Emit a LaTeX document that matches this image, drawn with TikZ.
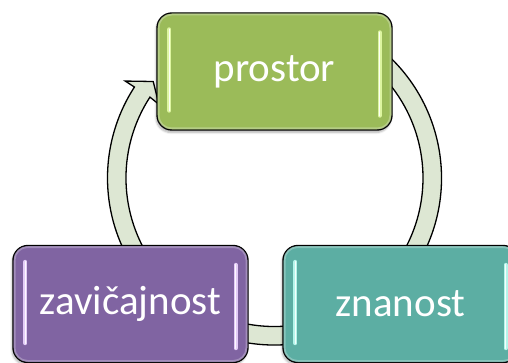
\documentclass[tikz,border=0pt]{standalone}
\usepackage{fontspec}
\setmainfont{Carlito}
\usetikzlibrary{shadows.blur}
\definecolor{grn}{HTML}{9BBB59}
\definecolor{prp}{HTML}{8064A2}
\definecolor{tea}{HTML}{5CAEA3}
\definecolor{ringfill}{HTML}{DDE7D3}
\definecolor{grnhl}{HTML}{DDF5A0}
\definecolor{prphl}{HTML}{E3CCF7}
\definecolor{teahl}{HTML}{B5F5EA}
\begin{document}
\begin{tikzpicture}[x=1pt,y=1pt,
  box/.style={rounded corners=15pt, draw=black, line width=1.4pt,
    minimum width=235pt, minimum height=117pt, inner sep=0pt, text=white,
    font=\fontsize{41}{49}\selectfont,
    blur shadow={shadow xshift=-1pt, shadow yshift=-2.5pt, shadow opacity=30, shadow blur steps=6}},
  hl/.style={line cap=round, line width=4pt},
  hlcore/.style={line cap=round, line width=1.4pt, draw=white, opacity=0.9},
  glow/.style={rounded corners=13pt, line width=2pt, opacity=0.45},
  ring/.style={fill=ringfill, draw=black, line width=1.3pt, line join=miter}]
\useasboundingbox (0,0) rectangle (508,-363);

% circular arrow
\begin{scope}[shift={(274.5,-178)}]
  \draw[ring] (60:167) arc[start angle=60, end angle=-213, radius=167]
    -- (-213:178) -- (-218.5:155) -- (-212.5:137) -- (-213:148.5)
    arc[start angle=-213, end angle=60, radius=148.5] -- cycle;
\end{scope}

% boxes
\node[box, fill=grn] (P) at (274.5,-71.5) {prostor};
\node[box, fill=prp] (Z) at (130.5,-304) {zavičajnost};
\node[box, fill=tea] (N) at (400.5,-304) {znanost};

% inner glow and highlights
\foreach \n/\c/\h in {P/grn/grnhl, Z/prp/prphl, N/tea/teahl}{
  \draw[glow, draw=\c!40!white] ([shift={(2.2pt,-2.2pt)}]\n.north west) rectangle ([shift={(-2.2pt,2.2pt)}]\n.south east);
  \draw[hl, draw=\h] ([shift={(13pt,-17pt)}]\n.north west) -- ([shift={(13pt,20pt)}]\n.south west);
  \draw[hlcore] ([shift={(13pt,-17pt)}]\n.north west) -- ([shift={(13pt,20pt)}]\n.south west);
  \draw[hl, draw=\h] ([shift={(-13pt,-20pt)}]\n.north east) -- ([shift={(-13pt,15pt)}]\n.south east);
  \draw[hlcore] ([shift={(-13pt,-20pt)}]\n.north east) -- ([shift={(-13pt,15pt)}]\n.south east);
}
\end{tikzpicture}
\end{document}
